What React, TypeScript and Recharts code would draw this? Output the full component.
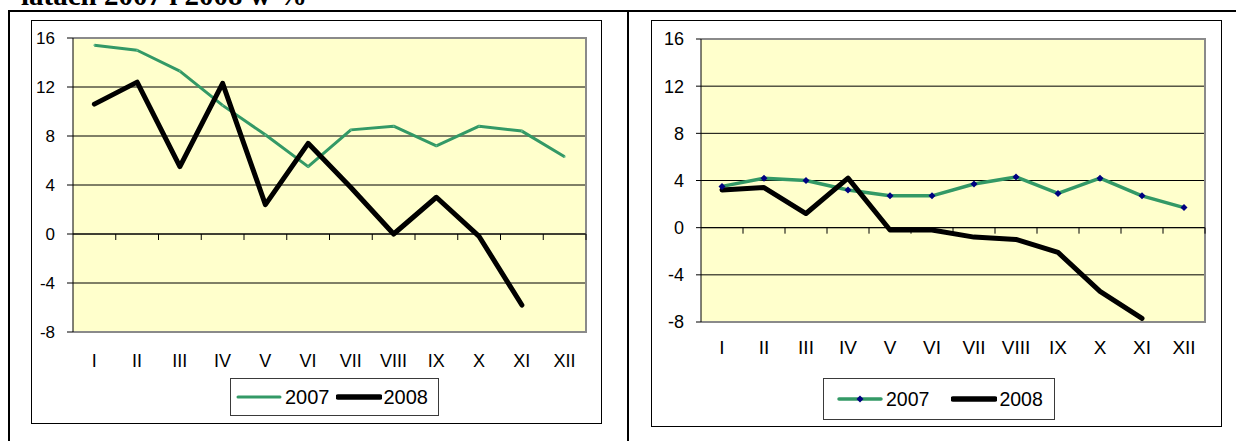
import React from 'react';
import { LineChart, Line, XAxis, YAxis, CartesianGrid, Legend, ReferenceLine, ReferenceArea } from 'recharts';

const months = ['I', 'II', 'III', 'IV', 'V', 'VI', 'VII', 'VIII', 'IX', 'X', 'XI', 'XII'];
const yTicks = [-8, -4, 0, 4, 8, 12, 16];

// left panel
const left2007 = [15.4, 15.0, 13.3, 10.5, 8.1, 5.5, 8.5, 8.8, 7.2, 8.8, 8.4, 6.3];
const left2008 = [10.6, 12.4, 5.5, 12.3, 2.4, 7.4, 3.8, 0.0, 3.0, -0.2, -5.8, null];

// right panel
const right2007 = [3.5, 4.2, 4.0, 3.2, 2.7, 2.7, 3.7, 4.3, 2.9, 4.2, 2.7, 1.7];
const right2008 = [3.2, 3.4, 1.2, 4.2, -0.2, -0.2, -0.8, -1.0, -2.1, -5.4, -7.7, null];

const GREEN = '#339966';
const FONT = '"Liberation Sans", Arial, sans-serif';

const buildRows = (a: (number | null)[], b: (number | null)[]) =>
  months.map((m, i) => ({ month: m, y2007: a[i], y2008: b[i] }));

// x axis drawn across the zero line, with category ticks
const ZeroAxis = (props: any) => {
  const { x1, x2, y1 } = props;
  const step = (x2 - x1) / months.length;
  return (
    <g>
      <line x1={x1} y1={y1} x2={x2} y2={y1} stroke="#000" strokeWidth={1} />
      {months.map((_, i) => (
        <line key={i} x1={x1 + step * (i + 1)} x2={x1 + step * (i + 1)} y1={y1} y2={y1 + 6} stroke="#000" strokeWidth={1} />
      ))}
    </g>
  );
};

// grey frame on top, right and bottom of the plot area
const PlotFrame = (props: any) => {
  const { x, y, width, height } = props;
  return (
    <path
      d={`M${x},${y} H${x + width} V${y + height} H${x}`}
      fill="none"
      stroke="#8a8a8a"
      strokeWidth={2}
    />
  );
};

const Diamond = (props: any) => {
  const { cx, cy, index } = props;
  if (cx == null || cy == null) return <g key={index} />;
  return <path key={index} d={`M${cx},${cy - 3.5} L${cx + 3.5},${cy} L${cx},${cy + 3.5} L${cx - 3.5},${cy} Z`} fill="#000080" />;
};

interface PanelProps {
  rows: any[];
  width: number;
  height: number;
  margin: { top: number; right: number; left: number; bottom: number };
  yWidth: number;
  yFont: number;
  yTickSize: number;
  xFont: number;
  xGap: number;
  legendBox: { left: number; top: number; width: number; height: number };
  legendFont: number;
  legendPad: number;
  legendGap: number;
  diamonds: boolean;
  greenWidth: number;
}

const Panel: React.FC<PanelProps> = (p) => {
  const renderLegend = (props: any) => (
    <div
      style={{
        width: '100%',
        height: '100%',
        boxSizing: 'border-box',
        border: '1px solid #3a3a3a',
        display: 'flex',
        alignItems: 'center',
        paddingLeft: p.legendPad,
        fontFamily: FONT,
        fontSize: p.legendFont,
        color: '#000',
        background: '#fff',
      }}
    >
      {props.payload.map((entry: any, i: number) => {
        const black = entry.dataKey === 'y2008';
        return (
          <div key={entry.value} style={{ display: 'flex', alignItems: 'center', marginLeft: i === 0 ? 0 : p.legendGap }}>
            <svg width={46} height={10} style={{ marginRight: black ? 2 : 3 }}>
              <line
                x1={2}
                y1={5}
                x2={44}
                y2={5}
                stroke={black ? '#000' : GREEN}
                strokeWidth={black ? 5.5 : p.greenWidth}
                strokeLinecap="round"
              />
              {!black && p.diamonds && <path d="M23,1.5 L26.5,5 L23,8.5 L19.5,5 Z" fill="#000080" />}
            </svg>
            <span>{entry.value}</span>
          </div>
        );
      })}
    </div>
  );

  return (
    <LineChart width={p.width} height={p.height} data={p.rows} margin={p.margin}>
      <CartesianGrid vertical={false} stroke="#000" strokeWidth={1} fill="#FFFFCC" fillOpacity={1} />
      <XAxis
        dataKey="month"
        scale="band"
        axisLine={false}
        tickLine={false}
        tickSize={0}
        tickMargin={p.xGap}
        height={30}
        interval={0}
        tick={{ fill: '#000', fontSize: p.xFont, fontFamily: FONT }}
      />
      <YAxis
        width={p.yWidth}
        domain={[-8, 16]}
        ticks={yTicks}
        type="number"
        allowDataOverflow
        axisLine={{ stroke: '#000', strokeWidth: 1 }}
        tickLine={{ stroke: '#000', strokeWidth: 1 }}
        tickSize={p.yTickSize}
        tickMargin={12}
        tick={{ fill: '#000', fontSize: p.yFont, fontFamily: FONT }}
      />
      <ReferenceArea y1={-8} y2={16} ifOverflow="visible" shape={PlotFrame} />
      <ReferenceLine y={0} ifOverflow="visible" shape={ZeroAxis} />
      <Line
        dataKey="y2007"
        name="2007"
        stroke={GREEN}
        strokeWidth={p.greenWidth}
        strokeLinejoin="round"
        dot={p.diamonds ? Diamond : { r: 1, fill: '#5fb88a', stroke: 'none' }}
        activeDot={false}
        isAnimationActive={false}
      />
      <Line
        dataKey="y2008"
        name="2008"
        stroke="#000"
        strokeWidth={5}
        strokeLinejoin="round"
        strokeLinecap="round"
        dot={false}
        activeDot={false}
        isAnimationActive={false}
      />
      <Legend
        layout="horizontal"
        verticalAlign="middle"
        align="center"
        content={renderLegend}
        wrapperStyle={{ ...p.legendBox }}
      />
    </LineChart>
  );
};

const App: React.FC = () => {
  return (
    <div style={{ position: 'absolute', left: 0, top: 0, width: 1236, height: 441, overflow: 'hidden', background: '#fff' }}>
      <div
        style={{
          position: 'absolute',
          left: 21,
          top: -19,
          fontFamily: '"Liberation Serif", "Times New Roman", serif',
          fontWeight: 'bold',
          fontSize: 29,
          lineHeight: '29px',
          whiteSpace: 'nowrap',
          color: '#000',
        }}
      >
        latach 2007 i 2008 w %
      </div>
      {/* table frame */}
      <div style={{ position: 'absolute', left: 8, top: 10, width: 1228, height: 2, background: '#000' }} />
      <div style={{ position: 'absolute', left: 8, top: 10, width: 2, height: 431, background: '#000' }} />
      <div style={{ position: 'absolute', left: 627, top: 10, width: 2, height: 431, background: '#000' }} />

      <div style={{ position: 'absolute', left: 31, top: 20, width: 571, height: 404, boxSizing: 'border-box', border: '1px solid #000' }}>
        <Panel
          rows={buildRows(left2007, left2008)}
          width={569}
          height={402}
          margin={{ top: 17, right: 15, left: 0, bottom: 61 }}
          yWidth={41}
          yFont={17}
          yTickSize={6}
          xFont={18}
          xGap={22}
          legendBox={{ left: 198, top: 357, width: 209, height: 38 }}
          legendFont={20}
          legendPad={5}
          legendGap={6}
          diamonds={false}
          greenWidth={3}
        />
      </div>

      <div style={{ position: 'absolute', left: 651, top: 20, width: 571, height: 407, boxSizing: 'border-box', border: '1px solid #000' }}>
        <Panel
          rows={buildRows(right2007, right2008)}
          width={569}
          height={405}
          margin={{ top: 18, right: 16, left: 0, bottom: 74 }}
          yWidth={49}
          yFont={18}
          yTickSize={5}
          xFont={19}
          xGap={19}
          legendBox={{ left: 171, top: 357, width: 232, height: 42 }}
          legendFont={19.5}
          legendPad={13}
          legendGap={22}
          diamonds={true}
          greenWidth={3.5}
        />
      </div>
    </div>
  );
};

export default App;
